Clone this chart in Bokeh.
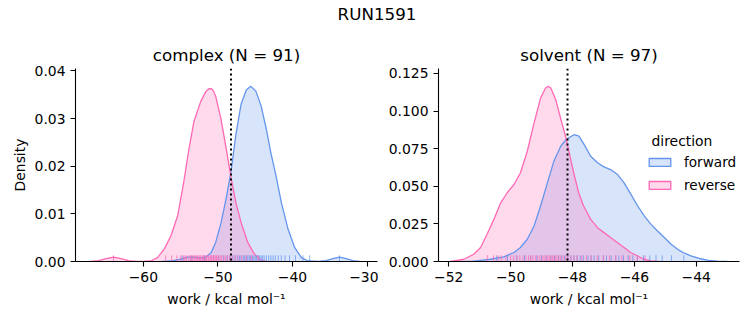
from bokeh.plotting import figure
from bokeh.layouts import column, row
from bokeh.models import Span, Legend, LegendItem, Label, FixedTicker, Range1d
from bokeh.embed import file_html
from bokeh.resources import INLINE
from bokeh.core.properties import value

FONT = "DejaVu Sans"
FWD = "#6495ED"
REV = "#FF69B4"
NAN = float("nan")

suptitle = "RUN1591"
directions = ["forward", "reverse"]

# ---- complex panel (KDE curves) ----
cx_rev_x = [-67.1, -66.0, -65.0, -64.0, -63.0, -62.0, -61.0, -60.0, -59.0, -58.1, -57.2, -56.3,
            -55.4, -54.6, -53.9, -53.2, -52.3, -51.6, -51.25, -50.9, -50.6, -50.3, -49.6, -48.9,
            -48.25, -47.6, -46.9, -46.0, -45.1, -44.2, -43.5]
cx_rev_d = [0.0000, 0.0002, 0.0006, 0.0009, 0.0006, 0.0002, 0.0000, 0.0000, 0.0001, 0.0008, 0.0026, 0.0054,
            0.0096, 0.0165, 0.0235, 0.0295, 0.0336, 0.0357, 0.0362, 0.0363, 0.0358, 0.0347, 0.0300, 0.0238,
            0.0177, 0.0124, 0.0082, 0.0040, 0.0015, 0.0003, 0.0000]
cx_fwd_x = [-57.5, -56.3, -55.0, -54.1, -53.2, -52.3, -51.6, -50.9, -50.3, -49.6, -48.9, -48.25,
            -47.6, -46.9, -46.2, -45.6, -44.9, -44.2, -43.5, -42.9, -42.2, -41.5, -40.6, -39.7,
            -38.8, -37.9, -36.5, -35.5, -34.6, -33.7, -32.8, -31.9, -31.0]
cx_fwd_d = [0.0000, 0.0001, 0.0005, 0.0009, 0.0009, 0.0007, 0.0009, 0.0019, 0.0040, 0.0080, 0.0132, 0.0188,
            0.0265, 0.0330, 0.0360, 0.0368, 0.0357, 0.0326, 0.0277, 0.0228, 0.0179, 0.0124, 0.0068, 0.0029,
            0.0008, 0.0001, 0.0000, 0.0002, 0.0006, 0.0009, 0.0006, 0.0002, 0.0000]
cx_rev_rug = [-64.0, -57.0, -56.2, -55.5, -55.0, -54.6, -54.4, -54.2, -53.9, -53.7, -53.6, -53.4, -53.2,
              -53.1, -52.9, -52.8, -52.7, -52.5, -52.4, -52.3, -52.1, -52.0, -51.9, -51.7, -51.6, -51.5,
              -51.3, -51.2, -51.0, -50.9, -50.8, -50.6, -50.5, -50.3, -50.2, -50.1, -49.9, -49.7, -49.5,
              -49.2, -49.0, -48.7, -48.4, -48.1, -47.7, -47.3, -46.8, -46.2, -45.5, -44.6]
cx_fwd_rug = [-54.8, -53.5, -51.8, -50.6, -49.9, -49.3, -48.8, -48.4, -48.0, -47.7, -47.4, -47.1, -46.9,
              -46.6, -46.4, -46.2, -46.0, -45.8, -45.6, -45.4, -45.2, -45.0, -44.8, -44.6, -44.4, -44.2,
              -44.0, -43.8, -43.5, -43.2, -42.9, -42.6, -42.3, -41.9, -41.5, -41.0, -40.4, -39.6, -38.6,
              -37.7, -33.7]
cx_estimate = -48.25
cx_title = "complex (N = 91)"
cx_xticks = [-60, -50, -40, -30]
cx_xlabels = ["\u221260", "\u221250", "\u221240", "\u221230"]
cx_yticks = [0.0, 0.01, 0.02, 0.03, 0.04]
cx_ylabels = ["0.00", "0.01", "0.02", "0.03", "0.04"]

# ---- solvent panel ----
sv_rev_x = [-51.95, -51.84, -51.51, -51.19, -50.97, -50.76, -50.54, -50.32, -50.11, -49.89, -49.68,
            -49.46, -49.24, -49.03, -48.87, -48.78, -48.70, -48.54, -48.38, -48.22, -47.96, -47.80,
            -47.64, -47.41, -47.19, -46.98, -46.77, -46.55, -46.33, -46.12, -45.90, -45.69, -45.47, -45.20]
sv_rev_d = [0.0000, 0.0004, 0.0015, 0.0048, 0.0093, 0.0181, 0.0280, 0.0390, 0.0457, 0.0512, 0.0590,
            0.0733, 0.0921, 0.1086, 0.1153, 0.1165, 0.1153, 0.1075, 0.0950, 0.0830, 0.0590, 0.0457,
            0.0369, 0.0280, 0.0225, 0.0192, 0.0159, 0.0126, 0.0093, 0.0060, 0.0038, 0.0015, 0.0004, 0.0000]
sv_fwd_x = [-51.84, -51.19, -50.65, -50.22, -49.89, -49.68, -49.46, -49.24, -49.03, -48.81, -48.60,
            -48.38, -48.20, -47.95, -47.79, -47.62, -47.41, -47.19, -46.98, -46.77, -46.54, -46.33,
            -46.11, -45.89, -45.68, -45.46, -45.25, -45.03, -44.81, -44.60, -44.38, -44.17, -43.90,
            -43.60, -43.30, -43.00]
sv_fwd_d = [0.0000, 0.0003, 0.0015, 0.0031, 0.0060, 0.0093, 0.0148, 0.0236, 0.0369, 0.0523, 0.0667,
            0.0766, 0.0812, 0.0843, 0.0833, 0.0777, 0.0700, 0.0656, 0.0629, 0.0611, 0.0578, 0.0523,
            0.0446, 0.0369, 0.0303, 0.0247, 0.0203, 0.0159, 0.0115, 0.0081, 0.0055, 0.0038, 0.0020,
            0.0008, 0.0002, 0.0000]
sv_rev_rug = [-50.75, -50.55, -50.4, -50.3, -50.15, -50.0, -49.9, -49.8, -49.7, -49.6, -49.5, -49.42,
              -49.35, -49.28, -49.2, -49.12, -49.05, -48.98, -48.92, -48.86, -48.8, -48.75, -48.7, -48.65,
              -48.6, -48.55, -48.5, -48.44, -48.38, -48.3, -48.22, -48.15, -48.05, -47.95, -47.85, -47.7,
              -47.55, -47.4, -47.2, -47.0, -46.8, -46.6, -46.4, -46.15, -45.9, -45.65]
sv_fwd_rug = [-50.45, -50.1, -49.8, -49.55, -49.35, -49.15, -49.0, -48.85, -48.7, -48.58, -48.45, -48.35,
              -48.25, -48.15, -48.05, -47.95, -47.85, -47.75, -47.65, -47.5, -47.4, -47.3, -47.15, -47.0,
              -46.9, -46.75, -46.6, -46.5, -46.35, -46.2, -46.05, -45.9, -45.7, -45.5, -45.3, -45.1,
              -44.8, -44.4]
sv_estimate = -48.16
sv_title = "solvent (N = 97)"
sv_xticks = [-52, -50, -48, -46, -44]
sv_xlabels = ["\u221252", "\u221250", "\u221248", "\u221246", "\u221244"]
sv_yticks = [0.0, 0.025, 0.05, 0.075, 0.1, 0.125]
sv_ylabels = ["0.000", "0.025", "0.050", "0.075", "0.100", "0.125"]

xlabel = "work / kcal mol\u207b\u00b9"
ylabel = "Density"


def style_axes(p, xticks, xlabels, yticks, ylabels, ylab):
    for ax in (p.xaxis[0], p.yaxis[0]):
        ax.axis_line_color = "black"
        ax.axis_line_width = 1.1
        ax.major_tick_line_color = "black"
        ax.major_tick_line_width = 1.1
        ax.major_tick_out = 5
        ax.major_tick_in = 0
        ax.minor_tick_out = 0
        ax.minor_tick_in = 0
        ax.major_label_text_font = FONT
        ax.major_label_text_font_size = "13.9px"
        ax.major_label_text_color = "black"
        ax.major_label_standoff = 5
        ax.axis_label_text_font = FONT
        ax.axis_label_text_font_size = "13.9px"
        ax.axis_label_text_font_style = "normal"
        ax.axis_label_text_color = "black"
    p.xaxis[0].axis_label_standoff = 6
    p.yaxis[0].axis_label_standoff = 4
    p.xaxis[0].ticker = FixedTicker(ticks=xticks, minor_ticks=[])
    p.xaxis[0].major_label_overrides = {t: l for t, l in zip(xticks, xlabels)}
    p.xaxis[0].axis_label = xlabel
    p.yaxis[0].ticker = FixedTicker(ticks=yticks, minor_ticks=[])
    p.yaxis[0].major_label_overrides = {t: l for t, l in zip(yticks, ylabels)}
    if ylab:
        p.yaxis[0].axis_label = ylab


def panel(title, width, bl, br, xr, yr, curves, rugs, est, xticks, xlabels, yticks, ylabels, ylab):
    p = figure(width=width, height=295, x_range=Range1d(*xr), y_range=Range1d(*yr),
               output_backend="svg", toolbar_location=None,
               min_border_left=bl, min_border_right=br, min_border_top=38, min_border_bottom=64)
    p.outline_line_color = None
    p.grid.visible = False
    p.title.text = title
    p.title.align = "center"
    p.title.text_font = FONT
    p.title.text_font_size = "16.7px"
    p.title.text_font_style = "normal"
    p.title.text_color = "black"
    p.title.standoff = 7
    for (xs, ds, col) in curves:
        p.varea(x=xs, y1=[0.0] * len(xs), y2=ds, fill_color=col, fill_alpha=0.25)
    for (xs, ds, col) in curves:
        p.line(x=xs, y=ds, line_color=col, line_width=1.3)
    rug_h = 0.032 * yr[1]
    for (vals, col) in rugs:
        p.segment(x0=vals, y0=[0.0] * len(vals), x1=vals, y1=[rug_h] * len(vals),
                  line_color=col, line_alpha=0.75, line_width=1)
    p.add_layout(Span(location=est, dimension="height", line_color="black",
                      line_width=2, line_dash="2 3"))
    style_axes(p, xticks, xlabels, yticks, ylabels, ylab)
    return p


p1 = panel(cx_title, 378, 75, 1, (-69.1, -28.6), (0.0, 0.0405),
           [(cx_fwd_x, cx_fwd_d, FWD), (cx_rev_x, cx_rev_d, REV)],
           [(cx_fwd_rug, FWD), (cx_rev_rug, REV)], cx_estimate,
           cx_xticks, cx_xlabels, cx_yticks, cx_ylabels, ylabel)

p2 = panel(sv_title, 375, 60, 14, (-52.33, -42.6), (0.0, 0.1283),
           [(sv_fwd_x, sv_fwd_d, FWD), (sv_rev_x, sv_rev_d, REV)],
           [(sv_fwd_rug, FWD), (sv_rev_rug, REV)], sv_estimate,
           sv_xticks, sv_xlabels, sv_yticks, sv_ylabels, None)

# legend with patch handles (handles carry no drawable coordinates)
h_fwd = p2.quad(left=[NAN], right=[NAN], top=[NAN], bottom=[NAN], fill_color=FWD, fill_alpha=0.25,
                line_color=FWD, line_width=1.3)
h_rev = p2.quad(left=[NAN], right=[NAN], top=[NAN], bottom=[NAN], fill_color=REV, fill_alpha=0.25,
                line_color=REV, line_width=1.3)
legend = Legend(items=[LegendItem(label=directions[0], renderers=[h_fwd], index=0),
                       LegendItem(label=directions[1], renderers=[h_rev], index=0)],
                location=(208, 68), padding=0, margin=0, spacing=7,
                glyph_width=27, glyph_height=10, label_height=14, label_standoff=11,
                label_text_font=FONT, label_text_font_size="13.6px", label_text_color="black",
                border_line_color=None, background_fill_alpha=0.0)
p2.add_layout(legend)
p2.add_layout(Label(x=-44.46, y=0.0798, text="direction", text_align="center",
                    text_baseline="middle", text_font=FONT, text_font_size="13.9px",
                    text_color="black"))

pt = figure(width=753, height=30, x_range=(0, 1), y_range=(0, 1), x_axis_location=None,
            y_axis_location=None, toolbar_location=None, output_backend="svg", min_border=0)
pt.outline_line_color = None
pt.grid.visible = False
pt.text(x=[0.5], y=[1 - 13 / 30], text=[suptitle], text_align="center", text_baseline="middle",
        text_font=value(FONT), text_font_size="16.7px", text_color="black")

layout = column(pt, row(p1, p2, spacing=0), spacing=0)
open("out.html", "w").write(file_html(layout, INLINE))
